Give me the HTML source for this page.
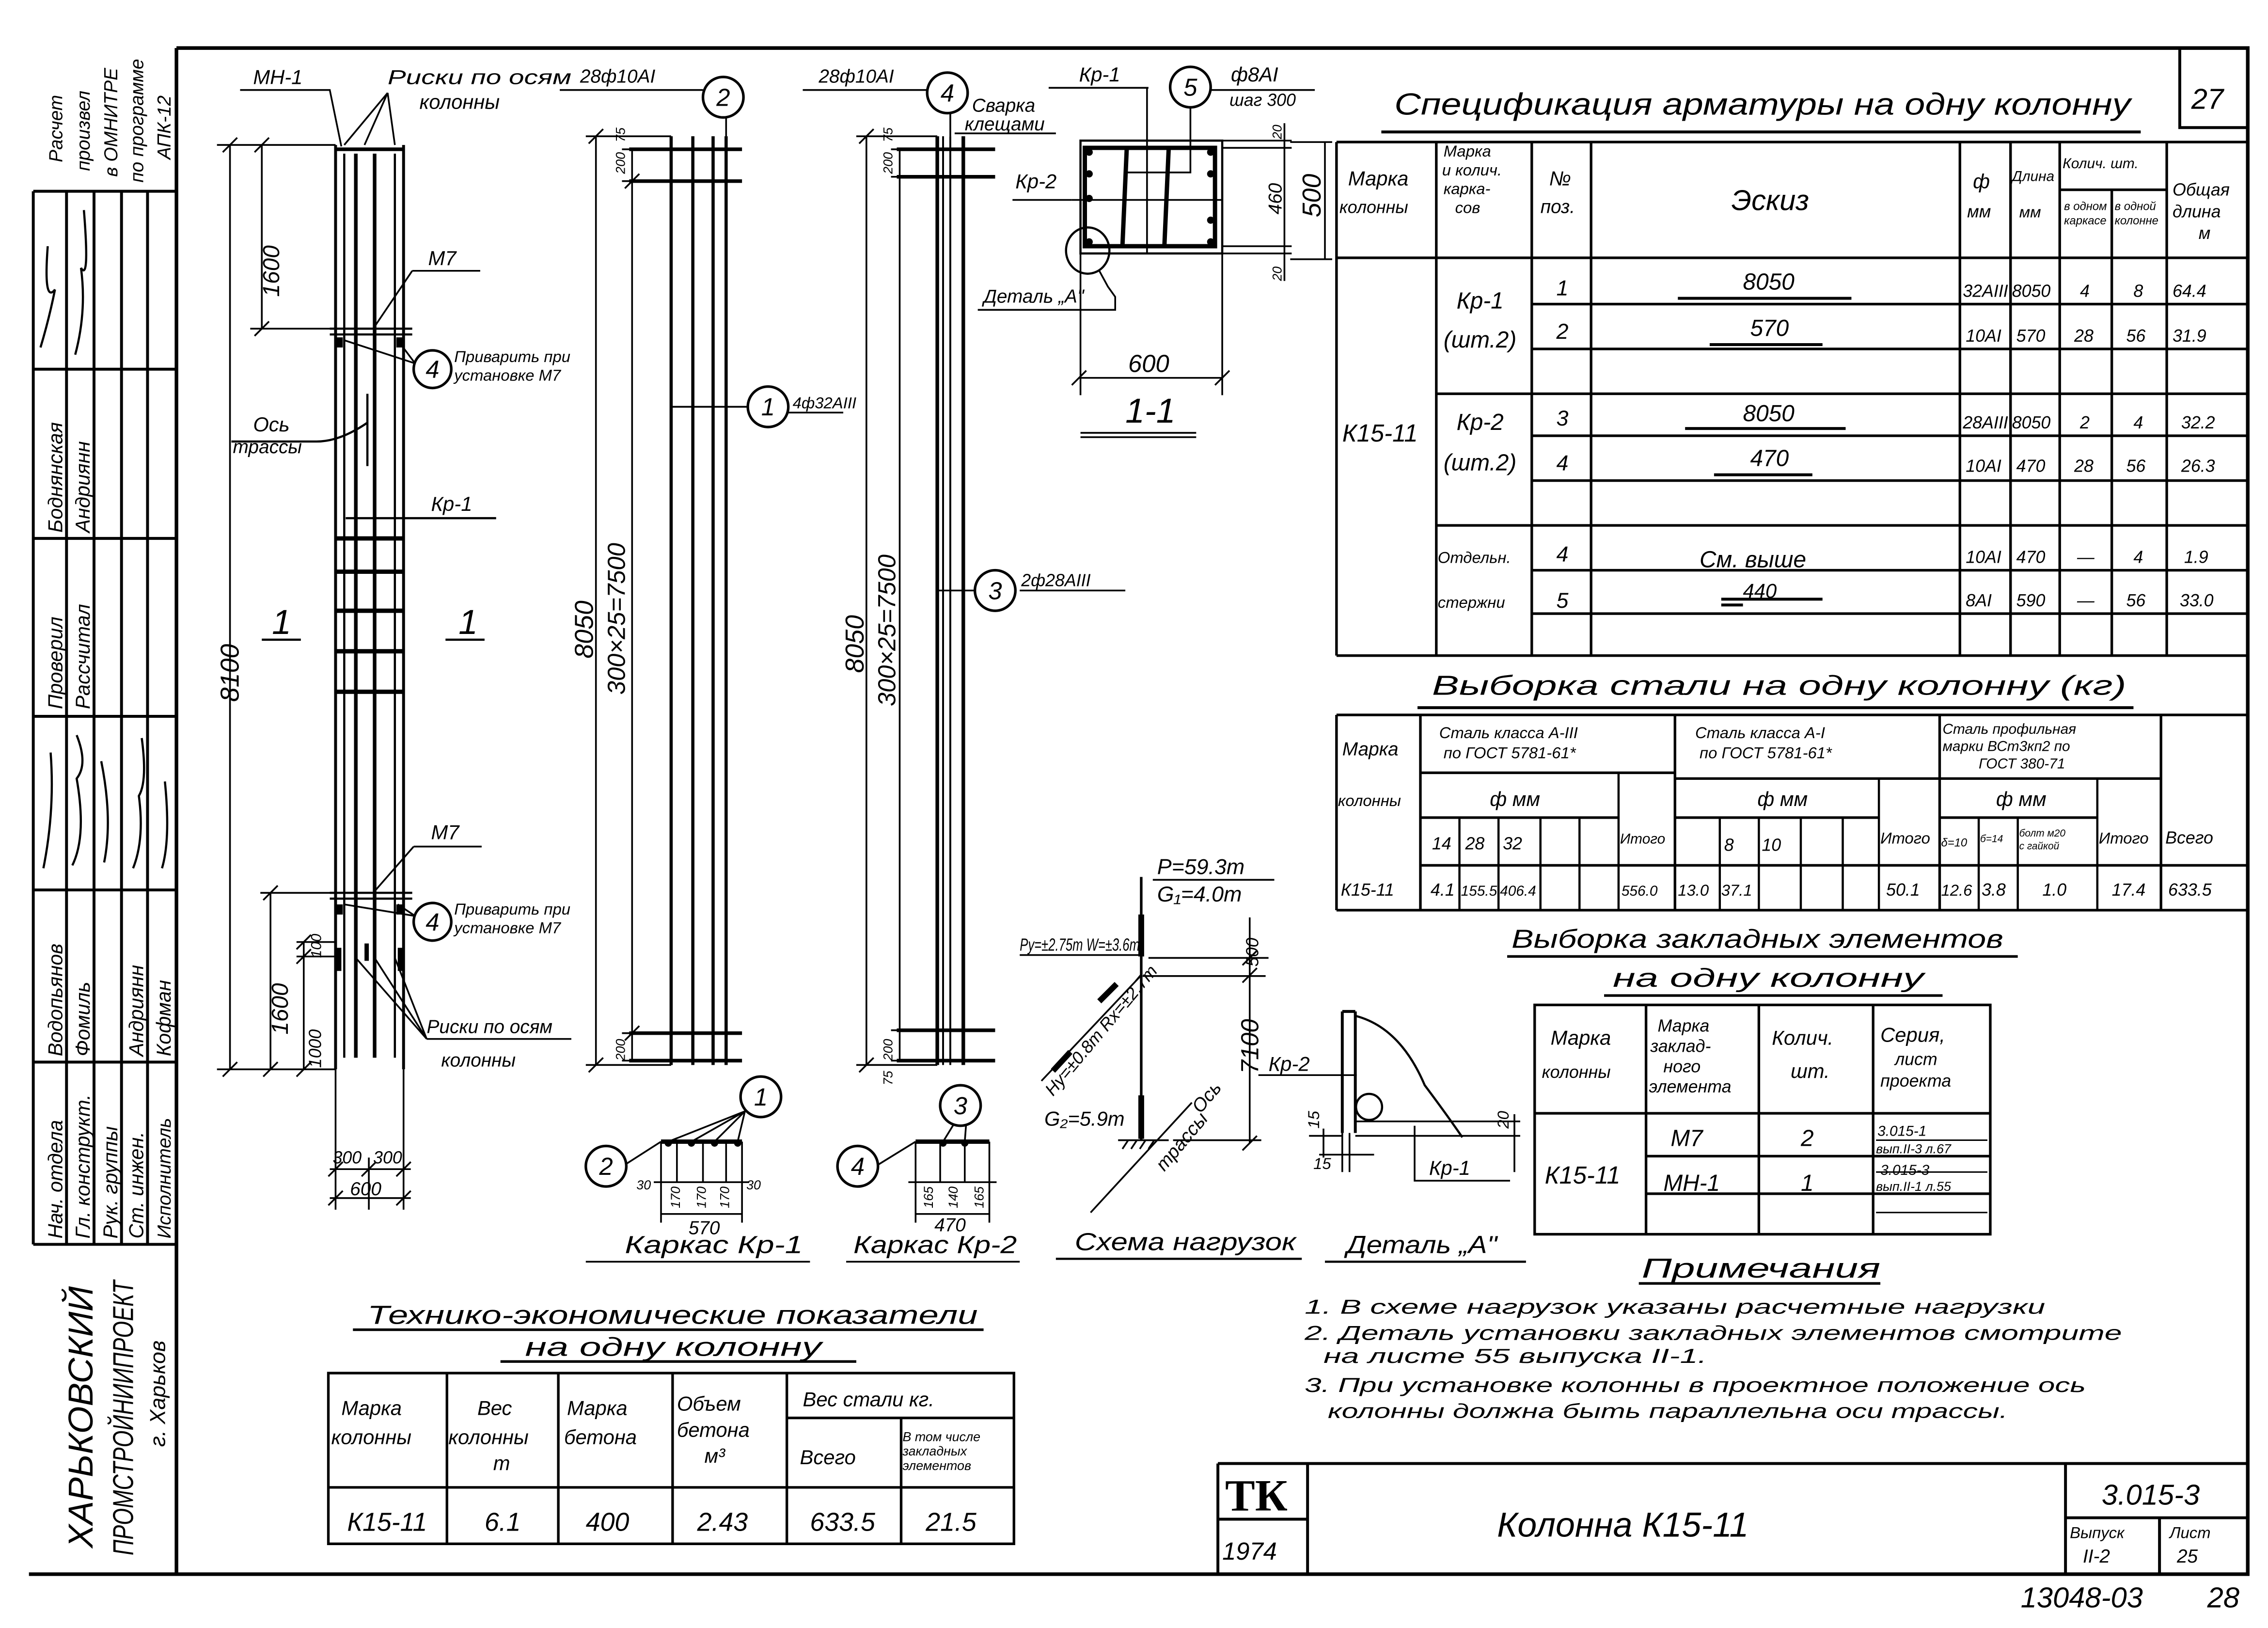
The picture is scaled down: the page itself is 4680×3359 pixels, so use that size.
<!DOCTYPE html>
<html><head><meta charset="utf-8"><style>
html,body{margin:0;padding:0;background:#fff}
svg{display:block}
text{font-family:"Liberation Sans","DejaVu Sans",sans-serif;font-style:italic;fill:#000}
</style></head><body>
<svg width="4680" height="3359" viewBox="0 0 1568 1125" xmlns="http://www.w3.org/2000/svg">
<g stroke="#000" fill="none" stroke-width="2">
<path d="M122 33 H1554 V1088 H20" stroke-width="2.5"/>
<path d="M122 33 V1088" stroke-width="2.5"/>
<path d="M1507 33 V88 H1554"/>
<path d="M23 132 H122 M23 255 H122 M23 372 H122 M23 495 H122 M23 615 H122 M23 734 H122 M23 860 H122"/>
<path d="M23 132 V860 M46 132 V860 M65 132 V860 M84 132 V860 M102 132 V860"/>
<path d="M28 240 q6 -20 10 -40 q-8 10 -5 -30 M52 245 q8 -30 4 -60 q6 10 2 -40 M30 600 q8 -40 5 -80 M50 598 q10 -20 3 -60 q8 -10 0 -30 M72 596 q6 -30 -2 -70 M92 600 q8 -20 4 -50 q6 -10 2 -40 M112 600 q6 -20 2 -60" stroke-width="1.5"/>
<path d="M842 1011.5 H1554 M842 1011.5 V1088 M904 1011.5 V1088 M1428 1011.5 V1088 M1428 1049 H1554 M1493 1049 V1088 M842 1050 H904"/>
<path d="M232 100 V739 M279 100 V739" stroke-width="2"/>
<path d="M232 739 V836 M279 739 V836 M255 800 V836" stroke-width="1.2"/>
<path d="M232 103 H279" stroke-width="2.5"/>
<path d="M238 106 V731 M273 106 V731" stroke-width="1.5"/>
<path d="M246 106 V731 M259 106 V731" stroke-width="2.5"/>
<path d="M232 372 H279 M232 395 H279 M232 422 H279 M232 450 H279 M232 478 H279" stroke-width="3"/>
<path d="M228 227 H285 M228 231 H285 M228 617 H285 M228 621 H285" stroke-width="1.5"/>
<path d="M159 100 V739 M150 100 H232 M150 739 H232 M181 100 V227 M173 227 H232 M187 617 V739 M180 617 H232 M210 651 V739 M205 651 H232 M205 661 H232" stroke-width="1.2"/>
<path d="M154 105 L164 95 M154 744 L164 734 M176 105 L186 95 M176 232 L186 222 M182 622 L192 612 M182 744 L192 734 M205 656 L215 646 M205 666 L215 656 M205 744 L215 734" stroke-width="1.2"/>
<path d="M228 808 H284 M228 828 H284 M227 813 L237 803 M250 813 L260 803 M274 813 L284 803 M227 833 L237 823 M274 833 L284 823" stroke-width="1.2"/>
<path d="M166 62 H228 L236 101 M268 64 L238 100 M268 64 L252 100 M268 64 L273 100" stroke-width="1.2"/>
<path d="M285 187 H332 M285 187 L258 227 M287 251 L238 235 M287 251 L275 235" stroke-width="1.2"/>
<path d="M286 585 H333 M286 585 L258 617 M287 633 L238 625 M287 633 L275 625" stroke-width="1.2"/>
<path d="M160 305 H219 Q235 305 254 292 M254 272 V322" stroke-width="1.5"/>
<path d="M239 358 H343 M181 442 H208 M308 442 H335" stroke-width="1.5"/>
<path d="M295 718 H395 M295 718 L246 662 M295 718 L259 662 M295 718 L273 662" stroke-width="1.2"/>
<path d="M464 94 V736 M479 94 V736 M493 94 V736 M502 94 V736" stroke-width="2.2"/>
<path d="M435 103 H513 M435 125 H513 M435 714 H513 M435 733 H513" stroke-width="2.5"/>
<path d="M412 94 V736 M405 94 H464 M405 736 H464 M437 103 V733 M430 103 H445 M430 125 H445 M430 714 H445 M430 733 H445 M407 99 L417 89 M407 741 L417 731 M432 130 L442 120 M432 719 L442 709" stroke-width="1.2"/>
<path d="M464 281 H517 M387 62 H486 M502 81 V94 M545 285 H583" stroke-width="1.2"/>
<path d="M648 94 V736 M666 94 V736" stroke-width="2.5"/>
<path d="M652 94 V736 M657 94 V736" stroke-width="1.3"/>
<path d="M620 103 H688 M620 122 H688 M620 712 H688 M620 733 H688" stroke-width="2.5"/>
<path d="M599 94 V736 M592 94 H648 M592 736 H648 M622 103 V733 M616 103 H630 M616 122 H630 M616 712 H630 M616 733 H630 M594 99 L604 89 M594 741 L604 731" stroke-width="1.2"/>
<path d="M648 408 H674 M555 62 H641 M660 92 H730 M657 78 V94 M705 408 H778" stroke-width="1.2"/>
<rect x="747" y="97" width="98" height="78" stroke-width="1.5"/>
<rect x="750" y="102" width="90" height="68" stroke-width="3"/>
<path d="M779 102 L776 170 M808 102 L805 170" stroke-width="3"/>
<path d="M779 119 H808 M793 60 V175 M823 74 V119 H808 M741 138 H845" stroke-width="1.2"/>
<path d="M725 60.5 H794 M836 62 H909 M700 138 H741" stroke-width="1.2"/>
<path d="M845 97 H893 M845 175 H893 M888 85 V194 M845 102 H893 M845 170 H893 M916 98 V179 M892 98 H921 M892 179 H921" stroke-width="1.2"/>
<path d="M747 175 V273 M845 175 V273 M746 261 H845 M741 266 L751 256 M840 266 L850 256 M747 299 H827 M747 302 H827" stroke-width="1.2"/>
<ellipse cx="752" cy="173" rx="15" ry="16" stroke-width="1.5"/>
<path d="M760 187 L766 198 L771 205 V214 H676" stroke-width="1.2"/>
<path d="M457 789 H513" stroke-width="3"/>
<path d="M457 789 V817 M468 789 V817 M486 789 V817 M502 789 V817 M513 789 V817 M452 817 H518 M457 817 V845 M513 817 V845 M457 839 H513 M405 872 H560" stroke-width="1.2"/>
<path d="M432 805 L457 789 M515 768 L462 789 M515 768 L478 789 M515 768 L494 789 M515 768 L510 789" stroke-width="1.2"/>
<path d="M633 789 H684" stroke-width="3"/>
<path d="M633 789 V817 M650 789 V817 M667 789 V817 M684 789 V817 M628 817 H689 M633 817 V845 M684 817 V845 M633 839 H684 M585 872 H705" stroke-width="1.2"/>
<path d="M607 805 L633 789 M660 776 L652 789 M668 776 L667 789" stroke-width="1.2"/>
<path d="M789 606 V788" stroke-width="1.8"/>
<path d="M789 632 V661 M789 757 V787" stroke-width="4"/>
<path d="M794 662 H877 M790 674.5 H875 M789 674 L720 747 M864 634 V790 M811 788 H872 M773 788 H808 M824 762 L754 838 M797 608 H881 M705 660 H788" stroke-width="1.2"/>
<path d="M772 680 L760 692 M740 727 L728 740" stroke-width="4"/>
<path d="M776 794 L780 788 M782 794 L786 788 M788 794 L792 788 M794 794 L798 788 M859 667 L869 657 M859 679 L869 669 M859 795 L869 785" stroke-width="1.2"/>
<path d="M730 870 H900 M916 872 H1055" stroke-width="1.5"/>
<path d="M928 699 V783 M937 699 V783 M928 699 H937" stroke-width="2"/>
<path d="M937 702 Q968 710 985 750 Q1000 770 1011 786" stroke-width="1.5"/>
<path d="M937 775 H1051 M937 785 H1051 M928 783 V810 M933 783 V810 M870 743 H938 M978 778 V816 H1044 M915 780 V800 M905 785 H928 M912 798 H950 M1047 770 V810" stroke-width="1.2"/>
<circle cx="946.5" cy="765" r="9" stroke-width="1.5"/>
<path d="M924 98 H1554 M924 178 H1554 M924 453 H1554 M993 272 H1554 M993 363 H1554 M1059 210 H1554 M1059 241 H1554 M1059 301 H1554 M1059 332 H1554 M1059 394 H1554 M1059 424 H1554 M1424 131 H1498" stroke-width="1.8"/>
<path d="M924 98 V453 M993 98 V453 M1059 98 V453 M1100 98 V453 M1355 98 V453 M1390 98 V453 M1424 98 V453 M1460 131 V453 M1498 98 V453" stroke-width="1.8"/>
<path d="M1160 206 H1280 M1182 238 H1260 M1165 296 H1276 M1185 328 H1253 M1190 414 H1260 M1190 418 H1205 M955 91 H1480 M980 489 H1475" stroke-width="2"/>
<path d="M924 494 H1554 M924 629 H1554 M924 494 V629 M982 494 V629 M1158 494 V629 M1341 494 V629 M1494 494 V629 M982 534 H1158 M1158 538 H1341 M1341 538 H1494 M982 565 H1119 M1158 565 H1299 M1341 565 H1450 M982 598 H1554" stroke-width="1.8"/>
<path d="M1009 565 V629 M1036 565 V629 M1065 565 V629 M1092 565 V629 M1119 534 V629 M1189 565 V629 M1216 565 V629 M1245 565 V629 M1274 565 V629 M1299 538 V629 M1368 565 V629 M1395 565 V629 M1450 538 V629" stroke-width="1.5"/>
<path d="M1061 694.5 H1376 V853 H1061 Z M1061 769.4 H1376 M1138 694.5 V853 M1216 694.5 V853 M1295 694.5 V853 M1138 799 H1376 M1138 825 H1376 M1042 661 H1395 M1109 688 H1343" stroke-width="1.8"/>
<path d="M1297 788 H1374 M1297 810 H1374 M1297 838 H1374" stroke-width="1"/>
<path d="M227 949 H701 V1067 H227 Z M227 1028 H701 M309 949 V1067 M386 949 V1067 M465 949 V1067 M544 949 V1067 M623 980 V1067 M544 980 H701 M244 919 H680 M346 941 H592 M1133 887 H1300" stroke-width="1.8"/>
</g>
<g fill="#000">
<rect x="232" y="233" width="5" height="7"/><rect x="274" y="233" width="5" height="7"/>
<rect x="232" y="625" width="5" height="7"/><rect x="274" y="625" width="5" height="7"/>
<rect x="232" y="655" width="4" height="16"/><rect x="275" y="655" width="4" height="16"/><rect x="252" y="652" width="3" height="12"/>
<circle cx="753" cy="105" r="2.5"/><circle cx="753" cy="120" r="2.5"/><circle cx="753" cy="137" r="2.5"/><circle cx="753" cy="167" r="2.5"/>
<circle cx="837" cy="105" r="2.5"/><circle cx="837" cy="120" r="2.5"/><circle cx="837" cy="152" r="2.5"/><circle cx="837" cy="167" r="2.5"/>
<circle cx="462" cy="790" r="2.5"/><circle cx="478" cy="790" r="2.5"/><circle cx="494" cy="790" r="2.5"/><circle cx="510" cy="790" r="2.5"/>
<circle cx="652" cy="790" r="2.5"/><circle cx="667" cy="790" r="2.5"/>
</g>
<g font-size="14">
<text x="175" y="58">МН-1</text><text x="268" y="58" textLength="127" lengthAdjust="spacingAndGlyphs">Риски по осям</text><text x="290" y="75">колонны</text>
<text x="401" y="57" font-size="13">28ф10АI</text><text x="566" y="57" font-size="13">28ф10АI</text>
<text x="672" y="77" font-size="13">Сварка</text><text x="667" y="90" font-size="13">клещами</text>
<text x="746" y="56">Кр-1</text><text x="851" y="56">ф8АI</text><text x="850" y="73" font-size="12">шаг 300</text>
<text x="702" y="130">Кр-2</text><text x="680" y="209" font-size="13">Деталь „А"</text>
<text x="780" y="257" font-size="17">600</text><text x="778" y="292" font-size="24">1-1</text>
<text x="296" y="183">М7</text><text x="314" y="250" font-size="11">Приварить при</text><text x="314" y="263" font-size="11">установке М7</text>
<text x="175" y="298">Ось</text><text x="161" y="313" font-size="13">трассы</text>
<text x="298" y="353">Кр-1</text>
<text x="188" y="438" font-size="24">1</text><text x="317" y="438" font-size="24">1</text>
<text x="298" y="580">М7</text><text x="314" y="632" font-size="11">Приварить при</text><text x="314" y="645" font-size="11">установке М7</text>
<text x="295" y="714" font-size="13">Риски по осям</text><text x="305" y="737" font-size="13">колонны</text>
<text x="230" y="804" font-size="12">300</text><text x="258" y="804" font-size="12">300</text><text x="242" y="826" font-size="13">600</text>
<text x="548" y="282" font-size="11">4ф32АIII</text><text x="706" y="405" font-size="12">2ф28АIII</text>
<text x="432" y="866" font-size="17" textLength="123" lengthAdjust="spacingAndGlyphs">Каркас Кр-1</text><text x="590" y="866" font-size="17" textLength="113" lengthAdjust="spacingAndGlyphs">Каркас Кр-2</text>
<text x="743" y="864" font-size="17" textLength="153" lengthAdjust="spacingAndGlyphs">Схема нагрузок</text><text x="931" y="866" font-size="17" textLength="104" lengthAdjust="spacingAndGlyphs">Деталь „А"</text>
<text x="476" y="853" font-size="13">570</text><text x="646" y="851" font-size="13">470</text>
<text x="440" y="822" font-size="9">30</text><text x="516" y="822" font-size="9">30</text>
<text x="800" y="604" font-size="15">P=59.3т</text><text x="800" y="623" font-size="15">G₁=4.0т</text>
<text x="705" y="657" font-size="12" textLength="83" lengthAdjust="spacingAndGlyphs">Pу=±2.75т W=±3.6т</text>
<text x="722" y="778" font-size="14">G₂=5.9т</text>
<text x="877" y="740" font-size="14">Кр-2</text><text x="988" y="812" font-size="14">Кр-1</text>
<text x="908" y="808" font-size="11">15</text>
<text x="964" y="79" font-size="21" textLength="509" lengthAdjust="spacingAndGlyphs">Спецификация арматуры на одну колонну</text>
<text x="1515" y="75" font-size="20">27</text>
<text x="932" y="128" font-size="14">Марка</text><text x="926" y="147" font-size="12">колонны</text>
<text x="998" y="108" font-size="11">Марка</text><text x="997" y="121" font-size="11">и колич.</text><text x="998" y="134" font-size="11">карка-</text><text x="1006" y="147" font-size="11">сов</text>
<text x="1071" y="128" font-size="14">№</text><text x="1065" y="147" font-size="13">поз.</text>
<text x="1197" y="145" font-size="20">Эскиз</text>
<text x="1364" y="130" font-size="14">ф</text><text x="1360" y="150" font-size="12">мм</text>
<text x="1391" y="125" font-size="10">Длина</text><text x="1396" y="150" font-size="11">мм</text>
<text x="1426" y="116" font-size="10">Колич. шт.</text>
<text x="1427" y="145" font-size="8">в одном</text><text x="1427" y="155" font-size="8">каркасе</text>
<text x="1462" y="145" font-size="8">в одной</text><text x="1462" y="155" font-size="8">колонне</text>
<text x="1502" y="135" font-size="12">Общая</text><text x="1502" y="150" font-size="12">длина</text><text x="1520" y="165" font-size="12">м</text>
<text x="928" y="305" font-size="17">К15-11</text>
<text x="1007" y="213" font-size="16">Кр-1</text><text x="998" y="240" font-size="16">(шт.2)</text>
<text x="1007" y="297" font-size="16">Кр-2</text><text x="998" y="325" font-size="16">(шт.2)</text>
<text x="994" y="389" font-size="11">Отдельн.</text><text x="994" y="420" font-size="11">стержни</text>
<g font-size="15"><text x="1076" y="204">1</text><text x="1076" y="234">2</text><text x="1076" y="294">3</text><text x="1076" y="325">4</text><text x="1076" y="388">4</text><text x="1076" y="420">5</text></g>
<text x="1205" y="200" font-size="16">8050</text><text x="1210" y="232" font-size="16">570</text><text x="1205" y="291" font-size="16">8050</text><text x="1210" y="322" font-size="16">470</text>
<text x="1175" y="392" font-size="16">См. выше</text><text x="1205" y="413" font-size="14">440</text>
<g font-size="12">
<text x="1357" y="205">32АIII</text><text x="1391" y="205">8050</text><text x="1438" y="205">4</text><text x="1475" y="205">8</text><text x="1502" y="205">64.4</text>
<text x="1359" y="236">10АI</text><text x="1394" y="236">570</text><text x="1434" y="236">28</text><text x="1470" y="236">56</text><text x="1502" y="236">31.9</text>
<text x="1357" y="296">28АIII</text><text x="1391" y="296">8050</text><text x="1438" y="296">2</text><text x="1475" y="296">4</text><text x="1508" y="296">32.2</text>
<text x="1359" y="326">10АI</text><text x="1394" y="326">470</text><text x="1434" y="326">28</text><text x="1470" y="326">56</text><text x="1508" y="326">26.3</text>
<text x="1359" y="389">10АI</text><text x="1394" y="389">470</text><text x="1436" y="389">—</text><text x="1475" y="389">4</text><text x="1510" y="389">1.9</text>
<text x="1359" y="419">8АI</text><text x="1394" y="419">590</text><text x="1436" y="419">—</text><text x="1470" y="419">56</text><text x="1507" y="419">33.0</text>
</g>
<text x="990" y="480" font-size="19" textLength="480" lengthAdjust="spacingAndGlyphs">Выборка стали на одну колонну (кг)</text>
<text x="928" y="522" font-size="13">Марка</text><text x="925" y="557" font-size="11">колонны</text>
<text x="995" y="510" font-size="11">Сталь класса А-III</text><text x="998" y="524" font-size="11">по ГОСТ 5781-61*</text>
<text x="1172" y="510" font-size="11">Сталь класса А-I</text><text x="1175" y="524" font-size="11">по ГОСТ 5781-61*</text>
<text x="1343" y="507" font-size="10">Сталь профильная</text><text x="1343" y="519" font-size="10">марки ВСт3кп2 по</text><text x="1368" y="531" font-size="10">ГОСТ 380-71</text>
<text x="1030" y="557" font-size="14">ф мм</text><text x="1215" y="557" font-size="14">ф мм</text><text x="1380" y="557" font-size="14">ф мм</text>
<text x="1120" y="583" font-size="10">Итого</text><text x="1300" y="583" font-size="11">Итого</text><text x="1451" y="583" font-size="11">Итого</text><text x="1497" y="583" font-size="12">Всего</text>
<text x="1342" y="585" font-size="8">δ=10</text><text x="1369" y="582" font-size="7">б=14</text><text x="1396" y="578" font-size="7">болт м20</text><text x="1396" y="587" font-size="7">с гайкой</text>
<g font-size="12">
<text x="990" y="587">14</text><text x="1013" y="587">28</text><text x="1039" y="587">32</text><text x="1192" y="588">8</text><text x="1218" y="588">10</text>
<text x="927" y="619">К15-11</text><text x="989" y="619">4.1</text><text x="1010" y="619" font-size="10">155.5</text><text x="1037" y="619" font-size="10">406.4</text><text x="1121" y="619" font-size="10">556.0</text><text x="1160" y="619" font-size="11">13.0</text><text x="1190" y="619" font-size="11">37.1</text><text x="1304" y="619">50.1</text><text x="1342" y="619" font-size="11">12.6</text><text x="1370" y="619">3.8</text><text x="1412" y="619">1.0</text><text x="1460" y="619">17.4</text><text x="1499" y="619">633.5</text>
</g>
<text x="1045" y="655" font-size="18" textLength="340" lengthAdjust="spacingAndGlyphs">Выборка закладных элементов</text>
<text x="1115" y="682" font-size="18" textLength="215" lengthAdjust="spacingAndGlyphs">на одну колонну</text>
<text x="1072" y="722" font-size="14">Марка</text><text x="1066" y="745" font-size="12">колонны</text>
<text x="1146" y="713" font-size="12">Марка</text><text x="1141" y="727" font-size="12">заклад-</text><text x="1150" y="741" font-size="12">ного</text><text x="1140" y="755" font-size="12">элемента</text>
<text x="1225" y="722" font-size="14">Колич.</text><text x="1238" y="745" font-size="14">шт.</text>
<text x="1300" y="720" font-size="14">Серия,</text><text x="1310" y="736" font-size="12">лист</text><text x="1300" y="751" font-size="12">проекта</text>
<text x="1068" y="818" font-size="17">К15-11</text><text x="1155" y="792" font-size="16">М7</text><text x="1150" y="823" font-size="16">МН-1</text><text x="1245" y="792" font-size="16">2</text><text x="1245" y="823" font-size="16">1</text>
<text x="1298" y="785" font-size="10">3.015-1</text><text x="1297" y="797" font-size="9">вып.II-3 л.67</text><text x="1300" y="812" font-size="10">3.015-3</text><text x="1297" y="823" font-size="9">вып.II-1 л.55</text>
<text x="1135" y="883" font-size="19" textLength="165" lengthAdjust="spacingAndGlyphs">Примечания</text>
<g font-size="14">
<text x="902" y="908" textLength="512" lengthAdjust="spacingAndGlyphs">1. В схеме нагрузок указаны расчетные нагрузки</text>
<text x="902" y="926" textLength="565" lengthAdjust="spacingAndGlyphs">2. Деталь установки закладных элементов смотрите</text>
<text x="915" y="942" textLength="265" lengthAdjust="spacingAndGlyphs">на листе 55 выпуска II-1.</text>
<text x="902" y="962" textLength="540" lengthAdjust="spacingAndGlyphs">3. При установке колонны в проектное положение ось</text>
<text x="918" y="980" textLength="470" lengthAdjust="spacingAndGlyphs">колонны должна быть параллельна оси трассы.</text>
</g>
<text x="254" y="915" font-size="18" textLength="422" lengthAdjust="spacingAndGlyphs">Технико-экономические показатели</text>
<text x="363" y="937" font-size="18" textLength="205" lengthAdjust="spacingAndGlyphs">на одну колонну</text>
<text x="236" y="978" font-size="14">Марка</text><text x="229" y="998" font-size="14">колонны</text>
<text x="330" y="978" font-size="14">Вес</text><text x="310" y="998" font-size="14">колонны</text><text x="341" y="1016" font-size="14">т</text>
<text x="392" y="978" font-size="14">Марка</text><text x="390" y="998" font-size="14">бетона</text>
<text x="468" y="975" font-size="14">Объем</text><text x="468" y="993" font-size="14">бетона</text><text x="487" y="1011" font-size="14">м³</text>
<text x="555" y="972" font-size="14">Вес стали кг.</text><text x="553" y="1012" font-size="14">Всего</text>
<text x="624" y="996" font-size="9">В том числе</text><text x="624" y="1006" font-size="9">закладных</text><text x="624" y="1016" font-size="9">элементов</text>
<g font-size="18"><text x="240" y="1058">К15-11</text><text x="335" y="1058">6.1</text><text x="405" y="1058">400</text><text x="482" y="1058">2.43</text><text x="560" y="1058">633.5</text><text x="640" y="1058">21.5</text></g>
<text x="847" y="1044" font-size="31" style="font-style:normal;font-weight:bold;font-family:'Liberation Serif',serif">ТК</text>
<text x="845" y="1078" font-size="17">1974</text>
<text x="1035" y="1062" font-size="24">Колонна К15-11</text>
<text x="1453" y="1040" font-size="20">3.015-3</text>
<text x="1431" y="1063" font-size="11">Выпуск</text><text x="1440" y="1080" font-size="13">II-2</text>
<text x="1500" y="1063" font-size="11">Лист</text><text x="1505" y="1080" font-size="13">25</text>
<text x="1397" y="1111" font-size="20">13048-03</text><text x="1526" y="1111" font-size="20">28</text>
</g>
<g font-size="18">
<text transform="translate(193 205) rotate(-90)" font-size="16">1600</text>
<text transform="translate(199 715) rotate(-90)" font-size="16">1600</text>
<text transform="translate(222 738) rotate(-90)" font-size="12">1000</text>
<text transform="translate(222 662) rotate(-90)" font-size="10">100</text>
<text transform="translate(165 485) rotate(-90)">8100</text>
<text transform="translate(410 455) rotate(-90)">8050</text>
<text transform="translate(432 480) rotate(-90)" font-size="17">300×25=7500</text>
<text transform="translate(432 120) rotate(-90)" font-size="9">200</text><text transform="translate(432 98) rotate(-90)" font-size="9">75</text>
<text transform="translate(432 733) rotate(-90)" font-size="9">200</text>
<text transform="translate(597 465) rotate(-90)">8050</text>
<text transform="translate(619 488) rotate(-90)" font-size="17">300×25=7500</text>
<text transform="translate(617 120) rotate(-90)" font-size="9">200</text><text transform="translate(617 98) rotate(-90)" font-size="9">75</text>
<text transform="translate(617 733) rotate(-90)" font-size="9">200</text><text transform="translate(617 750) rotate(-90)" font-size="9">75</text>
<text transform="translate(913 150) rotate(-90)">500</text>
<text transform="translate(886 148) rotate(-90)" font-size="13">460</text>
<text transform="translate(886 96) rotate(-90)" font-size="9">20</text><text transform="translate(886 194) rotate(-90)" font-size="9">20</text>
<text transform="translate(870 742) rotate(-90)" font-size="17">7100</text>
<text transform="translate(870 668) rotate(-90)" font-size="12">500</text>
<text transform="translate(1043 780) rotate(-90)" font-size="11">20</text>
<text transform="translate(912 780) rotate(-90)" font-size="11">15</text>
<text transform="translate(470 835) rotate(-90)" font-size="9">170</text><text transform="translate(488 835) rotate(-90)" font-size="9">170</text><text transform="translate(504 835) rotate(-90)" font-size="9">170</text>
<text transform="translate(645 835) rotate(-90)" font-size="9">165</text><text transform="translate(662 835) rotate(-90)" font-size="9">140</text><text transform="translate(680 835) rotate(-90)" font-size="9">165</text>
<text transform="translate(830 770) rotate(-50)" font-size="13">Ось</text>
<text transform="translate(805 810) rotate(-50)" font-size="13">трассы</text>
<text transform="translate(728 758) rotate(-50)" font-size="12">Hу=±0.8т Rх=±2.7т</text>
<g font-size="13">
<text transform="translate(43 112) rotate(-90)">Расчет</text>
<text transform="translate(62 118) rotate(-90)">произвел</text>
<text transform="translate(81 122) rotate(-90)">в ОМНИТРЕ</text>
<text transform="translate(99 126) rotate(-90)">по программе</text>
<text transform="translate(118 110) rotate(-90)">АПК-12</text>
</g>
<g font-size="14">
<text transform="translate(43 368) rotate(-90)">Боднянская</text>
<text transform="translate(62 368) rotate(-90)">Андриянн</text>
<text transform="translate(43 490) rotate(-90)">Проверил</text>
<text transform="translate(62 490) rotate(-90)">Рассчитал</text>
<text transform="translate(43 730) rotate(-90)">Водопьянов</text>
<text transform="translate(62 730) rotate(-90)">Фомиль</text>
<text transform="translate(99 730) rotate(-90)">Андриянн</text>
<text transform="translate(118 730) rotate(-90)">Кофман</text>
<text transform="translate(43 856) rotate(-90)">Нач. отдела</text>
<text transform="translate(62 856) rotate(-90)">Гл. конструкт.</text>
<text transform="translate(81 856) rotate(-90)">Рук. группы</text>
<text transform="translate(99 856) rotate(-90)">Ст. инжен.</text>
<text transform="translate(118 856) rotate(-90)" font-size="13">Исполнитель</text>
</g>
<text transform="translate(64 1070) rotate(-90)" font-size="24" textLength="181" lengthAdjust="spacingAndGlyphs">ХАРЬКОВСКИЙ</text>
<text transform="translate(92 1075) rotate(-90)" font-size="20" textLength="190" lengthAdjust="spacingAndGlyphs">ПРОМСТРОЙНИИПРОЕКТ</text>
<text transform="translate(114 1000) rotate(-90)" font-size="15">г. Харьков</text>
</g>
<g stroke="#000" fill="#fff" stroke-width="1.8">
<circle cx="500" cy="67" r="14"/><circle cx="655" cy="64" r="14"/><circle cx="823" cy="60" r="14"/>
<circle cx="299" cy="255" r="13"/><circle cx="299" cy="637" r="13"/>
<circle cx="531" cy="281" r="14"/><circle cx="688" cy="408" r="14"/>
<circle cx="526" cy="758" r="14"/><circle cx="419" cy="806" r="14"/>
<circle cx="664" cy="764" r="14"/><circle cx="593" cy="806" r="14"/>
</g>
<g font-size="17" text-anchor="middle">
<text x="500" y="73">2</text><text x="655" y="70">4</text><text x="823" y="66">5</text>
<text x="299" y="261">4</text><text x="299" y="643">4</text>
<text x="531" y="287">1</text><text x="688" y="414">3</text>
<text x="526" y="764">1</text><text x="419" y="812">2</text><text x="664" y="770">3</text><text x="593" y="812">4</text>
</g>
</svg>
</body></html>
